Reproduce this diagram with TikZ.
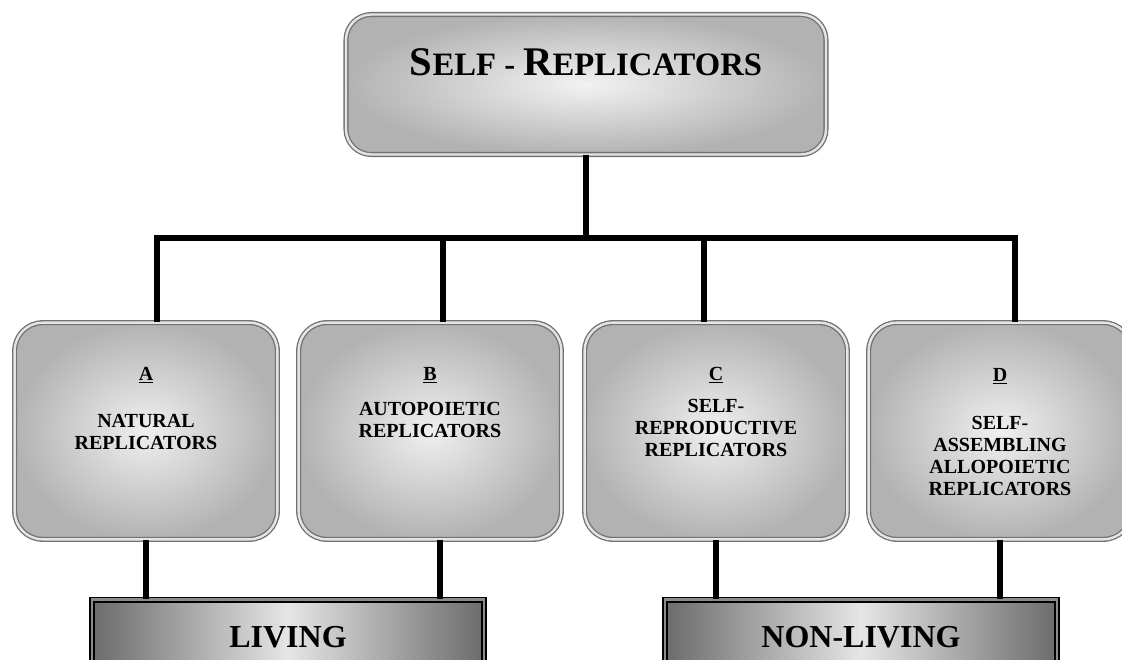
\documentclass[tikz,border=0pt]{standalone}
\usepackage{fontspec}
\setmainfont{Liberation Serif}

% fake small caps for the title
\newcommand{\bigsc}[2]{{\fontsize{30.5}{32}\selectfont #1}{\fontsize{24.5}{26}\selectfont #2}}

\begin{document}
\begin{tikzpicture}[x=0.75pt,y=-0.75pt,
        wire/.style={line width=4pt, line join=miter},
        topbox/.style={rounded corners=19pt, draw=black!55, double=black!10, double distance=1.8pt, line width=1pt,
            inner color=white!95!black, outer color=black!30, minimum width=360pt, minimum height=105pt,
            font=\bfseries\fontsize{24.5}{26}\selectfont, text height=22pt, text depth=36pt},
        repbox/.style={rounded corners=21pt, draw=black!55, double=black!10, double distance=1.8pt, line width=1pt,
            inner color=white!94!black, outer color=black!30, minimum width=197pt, minimum height=162.5pt},
        groupbox/.style={draw=black, double=black!45, double distance=2pt, line width=1.2pt,
            left color=black!58, right color=black!58, middle color=white!90!black,
            minimum width=294pt, minimum height=56pt, font=\bfseries\fontsize{24}{26}\selectfont},
        letter/.style={anchor=base, font=\bfseries\fontsize{15}{16.5}\selectfont, inner sep=1pt},
        boxtext/.style={align=center, font=\bfseries\fontsize{15}{16.5}\selectfont, inner sep=0pt}]
        \clip (0,0) rectangle (1122,660);

        % Connectors:
        \coordinate (busL) at (157,238);
        \coordinate (busR) at (1015,238);
        \coordinate (dropB) at (443,238);
        \coordinate (dropC) at (704,238);
        \coordinate (stemB) at (440,560);

        \node[topbox] (top) at (586,84.5) {\bigsc{S}{ELF} - \bigsc{R}{EPLICATORS}};

        \node[repbox] (boxA) at (146,431) {};
        \node[repbox] (boxB) at (430,431) {};
        \node[repbox] (boxC) at (716,431) {};
        \node[repbox] (boxD) at (1000,431) {};

        \node[groupbox] (living) at (288,637) {LIVING};
        \node[groupbox] (nonliving) at (861,637) {NON-LIVING};

        \draw[wire] (top.south) -- (top.south |- busL);
        \draw[wire] (boxA.north -| busL) -- (busL) -- (busR) -- (boxD.north -| busR);
        \draw[wire] (dropB) -- (dropB |- boxB.north);
        \draw[wire] (dropC) -- (dropC |- boxC.north);

        \draw[wire] (boxA.south) -- (boxA.south |- living.north);
        \draw[wire] (boxB.south -| stemB) -- (stemB |- living.north);
        \draw[wire] (boxC.south) -- (boxC.south |- nonliving.north);
        \draw[wire] (boxD.south) -- (boxD.south |- nonliving.north);

        %labels
        \node[letter] (letA) at (146,380) {\underline{A}};
        \node[letter] (letB) at (430,380) {\underline{B}};
        \node[letter] (letC) at (716,380) {\underline{C}};
        \node[letter] (letD) at (1000,381) {\underline{D}};

        \node[boxtext] (txtA) at (146,432) {NATURAL\\REPLICATORS};
        \node[boxtext] (txtB) at (430,420) {AUTOPOIETIC\\REPLICATORS};
        \node[boxtext] (txtC) at (716,428) {SELF-\\REPRODUCTIVE\\REPLICATORS};
        \node[boxtext] (txtD) at (1000,456) {SELF-\\ASSEMBLING\\ALLOPOIETIC\\REPLICATORS};
\end{tikzpicture}
\end{document}
